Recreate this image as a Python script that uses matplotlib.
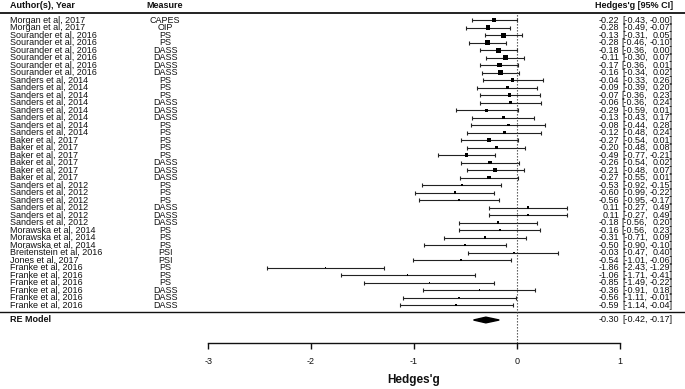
import matplotlib
matplotlib.use("Agg")
import matplotlib.pyplot as plt
import numpy as np

authors = (
    ["Morgan et al, 2017"] * 2
    + ["Sourander et al, 2016"] * 6
    + ["Sanders et al, 2014"] * 8
    + ["Baker et al, 2017"] * 6
    + ["Sanders et al, 2012"] * 6
    + ["Morawska et al, 2014"] * 3
    + ["Breitenstein et al, 2016", "Jones et al, 2017"]
    + ["Franke et al, 2016"] * 6
)
measures = [
    "CAPES", "OIP",
    "PS", "PS", "DASS", "DASS", "DASS", "DASS",
    "PS", "PS", "PS", "DASS", "DASS", "DASS", "PS", "PS",
    "PS", "PS", "PS", "DASS", "DASS", "DASS",
    "PS", "PS", "PS", "DASS", "DASS", "DASS",
    "PS", "PS", "PS",
    "PSI", "PSI",
    "PS", "PS", "PS", "DASS", "DASS", "DASS",
]
est = [
    -0.22, -0.28,
    -0.13, -0.28, -0.18, -0.11, -0.17, -0.16,
    -0.04, -0.09, -0.07, -0.06, -0.29, -0.13, -0.08, -0.12,
    -0.27, -0.20, -0.49, -0.26, -0.21, -0.27,
    -0.53, -0.60, -0.56, 0.11, 0.11, -0.18,
    -0.16, -0.31, -0.50,
    -0.03, -0.54,
    -1.86, -1.06, -0.85, -0.36, -0.56, -0.59,
]
lower = [
    -0.43, -0.49,
    -0.31, -0.46, -0.36, -0.30, -0.36, -0.34,
    -0.33, -0.39, -0.36, -0.36, -0.59, -0.43, -0.44, -0.48,
    -0.54, -0.48, -0.77, -0.54, -0.48, -0.55,
    -0.92, -0.99, -0.95, -0.27, -0.27, -0.56,
    -0.56, -0.71, -0.90,
    -0.47, -1.01,
    -2.43, -1.71, -1.49, -0.91, -1.11, -1.14,
]
upper = [
    -0.00, -0.07,
    0.05, -0.10, 0.00, 0.07, 0.01, 0.02,
    0.26, 0.20, 0.23, 0.24, 0.01, 0.17, 0.28, 0.24,
    0.01, 0.08, -0.21, 0.02, 0.07, 0.01,
    -0.15, -0.22, -0.17, 0.49, 0.49, 0.20,
    0.23, 0.09, -0.10,
    0.40, -0.06,
    -1.29, -0.41, -0.22, 0.18, -0.01, -0.04,
]
re_est, re_lower, re_upper = -0.30, -0.42, -0.17
xticks = [-3, -2, -1, 0, 1]

plt.rcParams["font.family"] = ["Liberation Sans", "DejaVu Sans"]
plt.rcParams["axes.unicode_minus"] = False

ink = "#111111"
fs = 6.5
k = len(est)
rows = np.arange(k, 0, -1)
est_a, lo_a, hi_a = np.array(est), np.array(lower), np.array(upper)

fig = plt.figure(figsize=(6.85, 3.89), dpi=100)
ax = fig.add_axes([0, 46 / 389, 1, 343 / 389])
ax.set_xlim(-5.026, 1.637)
ax.set_ylim(-4.067, 41.67)

# marker size from random-effects style weights
se = (hi_a - lo_a) / 3.92
w = 1 / (se ** 2 + 0.01)
norm = (w - w.min()) / (w.max() - w.min())
side_pt = (1.2 + 3.8 * norm) * 0.72

ax.errorbar(est_a, rows, xerr=[est_a - lo_a, hi_a - est_a], fmt="none",
            ecolor="#222222", elinewidth=0.8, capsize=1.6, capthick=0.8)
ax.scatter(est_a, rows, marker="s", s=side_pt ** 2, color="black", zorder=3,
           linewidths=0)

# summary diamond
ax.fill([re_lower, re_est, re_upper, re_est], [-1, -0.62, -1, -1.38],
        color="black", zorder=3)

ax.axhline(k + 1, color=ink, lw=1.3)
ax.axhline(0, color=ink, lw=1.0)
ax.plot([0, 0], [-4.067, k + 1], color="#444444", lw=0.8, ls=(0, (1.2, 1.5)))

# text columns
x_author, x_measure = -4.93, -3.42
x_est, x_lb, x_ub = 1.0, 1.272, 1.52
for r, a, m, e, lo, hi in zip(rows, authors, measures, est, lower, upper):
    ax.text(x_author, r, a, fontsize=fs, color=ink, va="center", ha="left")
    ax.text(x_measure, r, m, fontsize=fs, color=ink, va="center", ha="center")
    ax.text(x_est, r, f"{e:.2f}", fontsize=fs, color=ink, va="center", ha="right")
    ax.text(x_lb, r, f"[{lo:.2f},", fontsize=fs, color=ink, va="center", ha="right")
    ax.text(x_ub, r, f"{hi:.2f}]", fontsize=fs, color=ink, va="center", ha="right")

hy = k + 2
ax.text(x_author, hy, "Author(s), Year", fontsize=fs, fontweight="bold", color=ink,
        va="center", ha="left")
ax.text(x_measure, hy, "Measure", fontsize=fs, fontweight="bold", color=ink,
        va="center", ha="center")
ax.text(x_ub, hy, "Hedges'g [95% CI]", fontsize=fs, fontweight="bold", color=ink,
        va="center", ha="right")

ax.text(x_author, -1, "RE Model", fontsize=fs, fontweight="bold", color=ink,
        va="center", ha="left")
ax.text(x_est, -1, f"{re_est:.2f}", fontsize=fs, color=ink, va="center", ha="right")
ax.text(x_lb, -1, f"[{re_lower:.2f},", fontsize=fs, color=ink, va="center", ha="right")
ax.text(x_ub, -1, f"{re_upper:.2f}]", fontsize=fs, color=ink, va="center", ha="right")

for s in ["top", "left", "right"]:
    ax.spines[s].set_visible(False)
ax.spines["bottom"].set_bounds(xticks[0], xticks[-1])
ax.spines["bottom"].set_color(ink)
ax.spines["bottom"].set_linewidth(1.0)
ax.set_yticks([])
ax.set_xticks(xticks)
ax.set_xticklabels([str(t) for t in xticks])
ax.tick_params(axis="x", direction="out", length=4.3, width=1.0, color=ink,
               labelsize=6.5, labelcolor=ink, pad=6)

ax.text(-1, -9.0, "Hedges'g", fontsize=8.5, fontweight="bold", color=ink,
        ha="center", va="center", clip_on=False)

fig.savefig("out.png", dpi=100)
